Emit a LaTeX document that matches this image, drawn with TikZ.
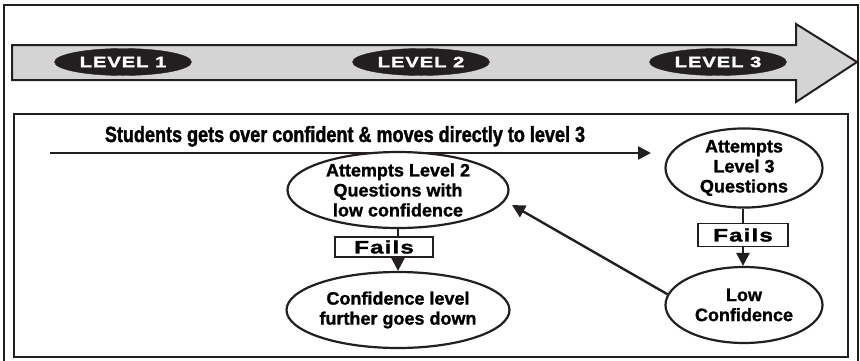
\documentclass[tikz,border=0pt]{standalone}
\usepackage{fontspec}
\setmainfont{Liberation Sans}[FakeBold=1.2]
\newfontfamily\headfont{Liberation Sans}[FakeStretch=0.82,FakeBold=1.5]
\newfontfamily\widefont{Liberation Sans}[FakeStretch=1.35,LetterSpace=6,FakeBold=1.5]
\usetikzlibrary{shapes.geometric,arrows.meta}
\definecolor{ink}{HTML}{231F20}
\definecolor{band}{HTML}{D4D4D4}
\tikzset{
  frame/.style={draw=ink, line width=2.4pt},
  levelpill/.style={ellipse, fill=ink, draw=ink, minimum width=137pt, minimum height=27pt,
    inner sep=0pt, text=white, font=\widefont\fontsize{15}{15}\selectfont\bfseries},
  bubble/.style={ellipse, draw=ink, line width=2.2pt, fill=white, inner sep=0pt, align=center,
    font=\fontsize{18}{20}\selectfont\bfseries},
  failbox/.style={draw=ink, line width=1.8pt, fill=white, inner sep=0pt,
    font=\widefont\fontsize{18}{18}\selectfont\bfseries},
  link/.style={draw=ink, line width=2.4pt},
  flow/.style={link, -{Triangle[length=13pt,width=13pt]}}
}
\begin{document}
\begin{tikzpicture}[x={(1pt,0)}, y={(0,-1pt)}]
\useasboundingbox (0,0) rectangle (860,360);

% outer frame and inner panel
\draw[frame] (4,5) rectangle (858,364);
\draw[frame] (14,114) rectangle (848,357);

% level band arrow
\draw[ink, line width=2pt, fill=band, line join=miter]
  (12,45) -- (796,45) -- (796,24) -- (857,62) -- (796,102) -- (796,80) -- (12,80) -- cycle;
\node[levelpill] (lv1) at (123,62) {LEVEL 1};
\node[levelpill] (lv2) at (421,62) {LEVEL 2};
\node[levelpill] (lv3) at (718,62) {LEVEL 3};

% direct jump to level 3
\node[font=\headfont\fontsize{22}{22}\selectfont\bfseries, anchor=base] (jump) at (345,142)
  {Students gets over confident \& moves directly to level 3};
\coordinate (jumpA) at (50,153);
\coordinate (jumpB) at (651,153);
\draw[flow] (jumpA) -- (jumpB);

% level 3 path
\node[bubble, minimum width=157pt, minimum height=76pt] (att3) at (744,168)
  {Attempts\\Level 3\\Questions};
\node[failbox, minimum width=90pt, minimum height=23pt] (fail3) at (743,235) {Fails};
\node[bubble, minimum width=157pt, minimum height=76pt] (lowc) at (744,305)
  {Low\\Confidence};
\draw[link] (fail3.north |- att3.south) -- (fail3.north);
\draw[flow] (fail3.south) -- (fail3.south |- lowc.north);

% back to level 2
\node[bubble, minimum width=221pt, minimum height=76pt] (att2) at (398,190)
  {Attempts Level 2\\Questions with\\low confidence};
\node[failbox, minimum width=98pt, minimum height=20pt] (fail2) at (384,247) {Fails};
\node[bubble, minimum width=223pt, minimum height=76pt] (down) at (398,310)
  {Confidence level\\further goes down};
\draw[link] (att2.south) -- (att2.south |- fail2.north);
\draw[flow] (att2.south |- fail2.south) -- (down.north);

\coordinate (backtip) at (512,205);
\draw[flow] (lowc.172) -- (backtip);
\end{tikzpicture}
\end{document}
